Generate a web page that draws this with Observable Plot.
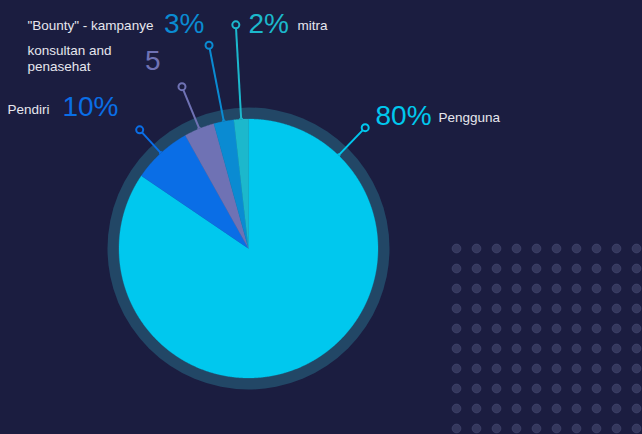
<!DOCTYPE html>
<html>
<head>
<meta charset="utf-8">
<script src="https://cdn.jsdelivr.net/npm/d3@7"></script>
<script src="https://cdn.jsdelivr.net/npm/@observablehq/plot@0.6"></script>
<style>
  html, body { margin: 0; padding: 0; background: #1b1d40; }
  #chart svg { display: block; }
</style>
</head>
<body>
<div id="chart"></div>
<script>
// ---- data ----
const categories = ["Pengguna", "Pendiri", "konsultan and\npenasehat", "\"Bounty\" - kampanye", "mitra"];
const values = [84.4, 7.4, 3.8, 2.5, 1.8];          // slice sizes as drawn
const valueLabels = ["80%", "10%", "5", "3%", "2%"]; // labels as printed
const colors = ["#00c8ee", "#0a6ee6", "#6f72b4", "#0a8bd2", "#1cb8cc"];

// ---- layout ----
const W = 642, H = 434;
const cx = 248, cy = 248, R = 129.5, ringR = 141;
const leaderAngleDeg = [44, null, null, null, null]; // null = slice mid-angle
const leaderLen = [168, 161, 175, 207, 224];
const labelLayout = [
  {nx: 375, ny: 116, na: "start", tx: 438, ty: 116, ta: "start"},
  {nx: 118, ny: 107, na: "end",   tx: 49,  ty: 108, ta: "end"},
  {nx: 160, ny: 61,  na: "end",   tx: 27,  ty: 57,  ta: "start"},
  {nx: 204, ny: 24,  na: "end",   tx: 27,  ty: 24,  ta: "start"},
  {nx: 248, ny: 24,  na: "start", tx: 297, ty: 24,  ta: "start"}
];

const pie = d3.pie().sort(null).value(d => d)(values);
const pt = (a, r) => [cx + r * Math.sin(a), cy - r * Math.cos(a)];

// slice polygons
const slicePts = [];
pie.forEach((s, i) => {
  slicePts.push({i, x: cx, y: cy});
  const n = Math.max(2, Math.ceil((s.endAngle - s.startAngle) / 0.005));
  for (let k = 0; k <= n; k++) {
    const a = s.startAngle + (s.endAngle - s.startAngle) * k / n;
    const [x, y] = pt(a, R);
    slicePts.push({i, x, y});
  }
  slicePts.push({i, x: cx, y: cy});
});

// leaders
const leaders = pie.map((s, i) => {
  const a = leaderAngleDeg[i] != null ? leaderAngleDeg[i] * Math.PI / 180 : (s.startAngle + s.endAngle) / 2;
  const [x1, y1] = pt(a, R);
  const [x2, y2] = pt(a, leaderLen[i]);
  return {i, x1, y1, x2, y2};
});

const labels = labelLayout.map((l, i) => ({...l, i, num: valueLabels[i], name: categories[i]}));

// decorative dot grid
const grid = [];
for (let r = 0; r < 10; r++) for (let c = 0; c < 10; c++) grid.push({x: 456 + c * 20, y: 248 + r * 20});

const numMark = anchor => Plot.text(labels.filter(d => d.na === anchor), {
  x: "nx", y: "ny", text: "num", textAnchor: anchor, fill: d => colors[d.i], fontSize: 28, lineAnchor: "middle"
});
const nameMark = anchor => Plot.text(labels.filter(d => d.ta === anchor), {
  x: "tx", y: "ty", text: "name", textAnchor: anchor, fill: "#e6e6ee", fontSize: 13.5, lineAnchor: "middle", lineHeight: 1.2
});

const chart = Plot.plot({
  width: W, height: H, margin: 0,
  style: {background: "#1b1d40", fontFamily: "'Liberation Sans', Arial, sans-serif"},
  x: {domain: [0, W], range: [0, W], axis: null},
  y: {domain: [0, H], range: [0, H], axis: null},
  marks: [
    Plot.dot(grid, {x: "x", y: "y", r: 4.4, fill: "#34375c", stroke: "#484c74", strokeWidth: 0.6}),
    Plot.dot([{x: cx, y: cy}], {x: "x", y: "y", r: ringR, fill: "#224766"}),
    Plot.line(slicePts, {x: "x", y: "y", z: "i", fill: d => colors[d.i], stroke: d => colors[d.i], strokeWidth: 0.3}),
    Plot.link(leaders, {x1: "x1", y1: "y1", x2: "x2", y2: "y2", stroke: d => colors[d.i], strokeWidth: 2}),
    Plot.dot(leaders, {x: "x1", y: "y1", r: 1.5, fill: "none", stroke: d => colors[d.i], strokeWidth: 1}),
    Plot.dot(leaders, {x: "x2", y: "y2", r: 3.5, fill: "#1b1d40", stroke: d => colors[d.i], strokeWidth: 2}),
    numMark("start"), numMark("end"),
    nameMark("start"), nameMark("end")
  ]
});
document.getElementById("chart").appendChild(chart);
</script>
</body>
</html>
